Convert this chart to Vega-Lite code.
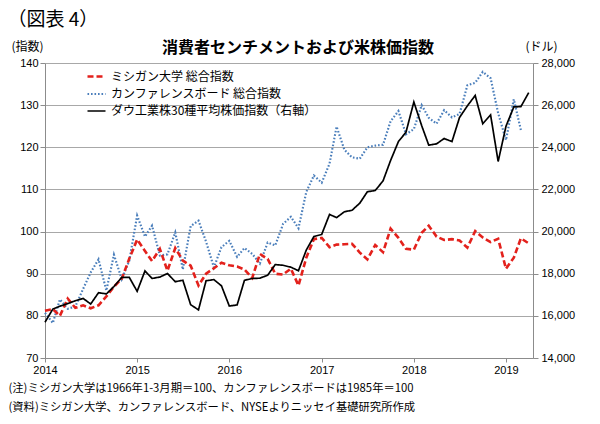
{
  "$schema": "https://vega.github.io/schema/vega-lite/v6.json",
  "width": 488,
  "height": 295,
  "autosize": "none",
  "padding": {"left": 45, "top": 63, "right": 67, "bottom": 66},
  "background": "white",
  "config": {
    "view": {"stroke": null},
    "font": "Noto Sans CJK JP",
    "axis": {
      "labelFont": "Liberation Sans",
      "labelFontSize": 11,
      "labelColor": "#000000",
      "domainColor": "#8c8c8c",
      "tickColor": "#8c8c8c",
      "gridColor": "#a8a8a8",
      "titleFont": "Noto Sans CJK JP",
      "titleFontWeight": "normal",
      "titleColor": "#000000"
    },
    "legend": {
      "orient": "none",
      "legendX": 41,
      "legendY": 3,
      "labelFont": "Noto Sans CJK JP",
      "labelFontSize": 12,
      "labelColor": "#000000",
      "labelLimit": 400,
      "symbolType": "stroke",
      "symbolSize": 324,
      "rowPadding": 0.5,
      "labelOffset": 4
    }
  },
  "title": {
    "text": "消費者センチメントおよび米株価指数",
    "font": "Noto Sans CJK JP",
    "fontSize": 16,
    "fontWeight": "bold",
    "color": "#000000",
    "anchor": "middle",
    "frame": "group",
    "offset": 0,
    "dx": 9,
    "dy": 46
  },
  "data": {
    "values": [
      {"date": "2014/01/01", "ミシガン大学 総合指数": 81.2, "カンファレンスボード 総合指数": 80.7, "ダウ工業株30種平均株価指数（右軸）": 15699},
      {"date": "2014/02/01", "ミシガン大学 総合指数": 81.6, "カンファレンスボード 総合指数": 78.3, "ダウ工業株30種平均株価指数（右軸）": 16322},
      {"date": "2014/03/01", "ミシガン大学 総合指数": 80.0, "カンファレンスボード 総合指数": 83.9, "ダウ工業株30種平均株価指数（右軸）": 16458},
      {"date": "2014/04/01", "ミシガン大学 総合指数": 84.1, "カンファレンスボード 総合指数": 81.7, "ダウ工業株30種平均株価指数（右軸）": 16581},
      {"date": "2014/05/01", "ミシガン大学 総合指数": 81.9, "カンファレンスボード 総合指数": 82.2, "ダウ工業株30種平均株価指数（右軸）": 16717},
      {"date": "2014/06/01", "ミシガン大学 総合指数": 82.5, "カンファレンスボード 総合指数": 86.4, "ダウ工業株30種平均株価指数（右軸）": 16827},
      {"date": "2014/07/01", "ミシガン大学 総合指数": 81.8, "カンファレンスボード 総合指数": 90.3, "ダウ工業株30種平均株価指数（右軸）": 16563},
      {"date": "2014/08/01", "ミシガン大学 総合指数": 82.5, "カンファレンスボード 総合指数": 93.4, "ダウ工業株30種平均株価指数（右軸）": 17098},
      {"date": "2014/09/01", "ミシガン大学 総合指数": 84.6, "カンファレンスボード 総合指数": 86.0, "ダウ工業株30種平均株価指数（右軸）": 17043},
      {"date": "2014/10/01", "ミシガン大学 総合指数": 86.9, "カンファレンスボード 総合指数": 94.5, "ダウ工業株30種平均株価指数（右軸）": 17391},
      {"date": "2014/11/01", "ミシガン大学 総合指数": 88.8, "カンファレンスボード 総合指数": 88.7, "ダウ工業株30種平均株価指数（右軸）": 17828},
      {"date": "2014/12/01", "ミシガン大学 総合指数": 93.6, "カンファレンスボード 総合指数": 93.1, "ダウ工業株30種平均株価指数（右軸）": 17823},
      {"date": "2015/01/01", "ミシガン大学 総合指数": 98.1, "カンファレンスボード 総合指数": 103.8, "ダウ工業株30種平均株価指数（右軸）": 17165},
      {"date": "2015/02/01", "ミシガン大学 総合指数": 95.4, "カンファレンスボード 総合指数": 98.8, "ダウ工業株30種平均株価指数（右軸）": 18133},
      {"date": "2015/03/01", "ミシガン大学 総合指数": 93.0, "カンファレンスボード 総合指数": 101.4, "ダウ工業株30種平均株価指数（右軸）": 17776},
      {"date": "2015/04/01", "ミシガン大学 総合指数": 95.9, "カンファレンスボード 総合指数": 94.3, "ダウ工業株30種平均株価指数（右軸）": 17841},
      {"date": "2015/05/01", "ミシガン大学 総合指数": 90.7, "カンファレンスボード 総合指数": 94.6, "ダウ工業株30種平均株価指数（右軸）": 18011},
      {"date": "2015/06/01", "ミシガン大学 総合指数": 96.1, "カンファレンスボード 総合指数": 99.8, "ダウ工業株30種平均株価指数（右軸）": 17620},
      {"date": "2015/07/01", "ミシガン大学 総合指数": 93.1, "カンファレンスボード 総合指数": 91.0, "ダウ工業株30種平均株価指数（右軸）": 17690},
      {"date": "2015/08/01", "ミシガン大学 総合指数": 91.9, "カンファレンスボード 総合指数": 101.3, "ダウ工業株30種平均株価指数（右軸）": 16528},
      {"date": "2015/09/01", "ミシガン大学 総合指数": 87.2, "カンファレンスボード 総合指数": 102.6, "ダウ工業株30種平均株価指数（右軸）": 16285},
      {"date": "2015/10/01", "ミシガン大学 総合指数": 90.0, "カンファレンスボード 総合指数": 97.6, "ダウ工業株30種平均株価指数（右軸）": 17664},
      {"date": "2015/11/01", "ミシガン大学 総合指数": 91.3, "カンファレンスボード 総合指数": 91.5, "ダウ工業株30種平均株価指数（右軸）": 17720},
      {"date": "2015/12/01", "ミシガン大学 総合指数": 92.6, "カンファレンスボード 総合指数": 96.3, "ダウ工業株30種平均株価指数（右軸）": 17425},
      {"date": "2016/01/01", "ミシガン大学 総合指数": 92.0, "カンファレンスボード 総合指数": 97.8, "ダウ工業株30種平均株価指数（右軸）": 16466},
      {"date": "2016/02/01", "ミシガン大学 総合指数": 91.7, "カンファレンスボード 総合指数": 94.0, "ダウ工業株30種平均株価指数（右軸）": 16517},
      {"date": "2016/03/01", "ミシガン大学 総合指数": 91.0, "カンファレンスボード 総合指数": 96.1, "ダウ工業株30種平均株価指数（右軸）": 17685},
      {"date": "2016/04/01", "ミシガン大学 総合指数": 89.0, "カンファレンスボード 総合指数": 94.7, "ダウ工業株30種平均株価指数（右軸）": 17774},
      {"date": "2016/05/01", "ミシガン大学 総合指数": 94.7, "カンファレンスボード 総合指数": 92.4, "ダウ工業株30種平均株価指数（右軸）": 17787},
      {"date": "2016/06/01", "ミシガン大学 総合指数": 93.5, "カンファレンスボード 総合指数": 97.4, "ダウ工業株30種平均株価指数（右軸）": 17930},
      {"date": "2016/07/01", "ミシガン大学 総合指数": 90.0, "カンファレンスボード 総合指数": 96.7, "ダウ工業株30種平均株価指数（右軸）": 18432},
      {"date": "2016/08/01", "ミシガン大学 総合指数": 89.8, "カンファレンスボード 総合指数": 101.8, "ダウ工業株30種平均株価指数（右軸）": 18401},
      {"date": "2016/09/01", "ミシガン大学 総合指数": 91.2, "カンファレンスボード 総合指数": 103.5, "ダウ工業株30種平均株価指数（右軸）": 18308},
      {"date": "2016/10/01", "ミシガン大学 総合指数": 87.2, "カンファレンスボード 総合指数": 100.8, "ダウ工業株30種平均株価指数（右軸）": 18142},
      {"date": "2016/11/01", "ミシガン大学 総合指数": 93.8, "カンファレンスボード 総合指数": 109.4, "ダウ工業株30種平均株価指数（右軸）": 19124},
      {"date": "2016/12/01", "ミシガン大学 総合指数": 98.2, "カンファレンスボード 総合指数": 113.3, "ダウ工業株30種平均株価指数（右軸）": 19763},
      {"date": "2017/01/01", "ミシガン大学 総合指数": 98.5, "カンファレンスボード 総合指数": 111.6, "ダウ工業株30種平均株価指数（右軸）": 19864},
      {"date": "2017/02/01", "ミシガン大学 総合指数": 96.3, "カンファレンスボード 総合指数": 116.1, "ダウ工業株30種平均株価指数（右軸）": 20812},
      {"date": "2017/03/01", "ミシガン大学 総合指数": 96.9, "カンファレンスボード 総合指数": 124.9, "ダウ工業株30種平均株価指数（右軸）": 20663},
      {"date": "2017/04/01", "ミシガン大学 総合指数": 97.0, "カンファレンスボード 総合指数": 119.4, "ダウ工業株30種平均株価指数（右軸）": 20941},
      {"date": "2017/05/01", "ミシガン大学 総合指数": 97.1, "カンファレンスボード 総合指数": 117.6, "ダウ工業株30種平均株価指数（右軸）": 21009},
      {"date": "2017/06/01", "ミシガン大学 総合指数": 95.0, "カンファレンスボード 総合指数": 117.3, "ダウ工業株30種平均株価指数（右軸）": 21350},
      {"date": "2017/07/01", "ミシガン大学 総合指数": 93.4, "カンファレンスボード 総合指数": 120.0, "ダウ工業株30種平均株価指数（右軸）": 21891},
      {"date": "2017/08/01", "ミシガン大学 総合指数": 96.8, "カンファレンスボード 総合指数": 120.4, "ダウ工業株30種平均株価指数（右軸）": 21948},
      {"date": "2017/09/01", "ミシガン大学 総合指数": 95.1, "カンファレンスボード 総合指数": 120.6, "ダウ工業株30種平均株価指数（右軸）": 22405},
      {"date": "2017/10/01", "ミシガン大学 総合指数": 100.7, "カンファレンスボード 総合指数": 126.2, "ダウ工業株30種平均株価指数（右軸）": 23377},
      {"date": "2017/11/01", "ミシガン大学 総合指数": 98.5, "カンファレンスボード 総合指数": 128.6, "ダウ工業株30種平均株価指数（右軸）": 24272},
      {"date": "2017/12/01", "ミシガン大学 総合指数": 95.9, "カンファレンスボード 総合指数": 123.1, "ダウ工業株30種平均株価指数（右軸）": 24719},
      {"date": "2018/01/01", "ミシガン大学 総合指数": 95.7, "カンファレンスボード 総合指数": 124.3, "ダウ工業株30種平均株価指数（右軸）": 26149},
      {"date": "2018/02/01", "ミシガン大学 総合指数": 99.7, "カンファレンスボード 総合指数": 130.0, "ダウ工業株30種平均株価指数（右軸）": 25029},
      {"date": "2018/03/01", "ミシガン大学 総合指数": 101.4, "カンファレンスボード 総合指数": 127.0, "ダウ工業株30種平均株価指数（右軸）": 24103},
      {"date": "2018/04/01", "ミシガン大学 総合指数": 98.8, "カンファレンスボード 総合指数": 125.6, "ダウ工業株30種平均株価指数（右軸）": 24163},
      {"date": "2018/05/01", "ミシガン大学 総合指数": 98.0, "カンファレンスボード 総合指数": 128.8, "ダウ工業株30種平均株価指数（右軸）": 24416},
      {"date": "2018/06/01", "ミシガン大学 総合指数": 98.2, "カンファレンスボード 総合指数": 127.1, "ダウ工業株30種平均株価指数（右軸）": 24271},
      {"date": "2018/07/01", "ミシガン大学 総合指数": 97.9, "カンファレンスボード 総合指数": 127.9, "ダウ工業株30種平均株価指数（右軸）": 25415},
      {"date": "2018/08/01", "ミシガン大学 総合指数": 96.2, "カンファレンスボード 総合指数": 134.7, "ダウ工業株30種平均株価指数（右軸）": 25965},
      {"date": "2018/09/01", "ミシガン大学 総合指数": 100.1, "カンファレンスボード 総合指数": 135.3, "ダウ工業株30種平均株価指数（右軸）": 26458},
      {"date": "2018/10/01", "ミシガン大学 総合指数": 98.6, "カンファレンスボード 総合指数": 137.9, "ダウ工業株30種平均株価指数（右軸）": 25116},
      {"date": "2018/11/01", "ミシガン大学 総合指数": 97.5, "カンファレンスボード 総合指数": 136.4, "ダウ工業株30種平均株価指数（右軸）": 25538},
      {"date": "2018/12/01", "ミシガン大学 総合指数": 98.3, "カンファレンスボード 総合指数": 128.1, "ダウ工業株30種平均株価指数（右軸）": 23327},
      {"date": "2019/01/01", "ミシガン大学 総合指数": 91.2, "カンファレンスボード 総合指数": 121.7, "ダウ工業株30種平均株価指数（右軸）": 25000},
      {"date": "2019/02/01", "ミシガン大学 総合指数": 93.8, "カンファレンスボード 総合指数": 131.4, "ダウ工業株30種平均株価指数（右軸）": 25916},
      {"date": "2019/03/01", "ミシガン大学 総合指数": 98.4, "カンファレンスボード 総合指数": 124.1, "ダウ工業株30種平均株価指数（右軸）": 25929},
      {"date": "2019/04/01", "ミシガン大学 総合指数": 97.2, "ダウ工業株30種平均株価指数（右軸）": 26593}
    ]
  },
  "layer": [
    {
      "transform": [
        {"fold": ["カンファレンスボード 総合指数", "ミシガン大学 総合指数"], "as": ["series", "value"]},
        {"filter": "isValid(datum.value)"}
      ],
      "mark": {"type": "line"},
      "encoding": {
        "x": {
          "field": "date", "type": "temporal",
          "scale": {"domain": [{"year": 2014, "month": 1, "date": 1}, {"year": 2019, "month": 4, "date": 18}]},
          "axis": {
            "orient": "bottom", "format": "%Y", "tickCount": {"interval": "year", "step": 1},
            "grid": false, "tickSize": 4, "labelPadding": 2, "labelFlush": false,
            "title": ["(注)ミシガン大学は1966年1-3月期＝100、カンファレンスボードは1985年＝100", "(資料)ミシガン大学、カンファレンスボード、NYSEよりニッセイ基礎研究所作成"],
            "titleFontSize": 11.3, "titleAnchor": "start", "titleAlign": "left", "titleBaseline": "top",
            "titleX": -37, "titleY": 24, "titleLineHeight": 19
          }
        },
        "y": {
          "field": "value", "type": "quantitative",
          "scale": {"domain": [70, 140], "zero": false, "nice": false},
          "axis": {
            "orient": "left", "values": [70, 80, 90, 100, 110, 120, 130, 140],
            "grid": true, "tickSize": 5, "labelPadding": 2,
            "title": "(指数)", "titleAngle": 0, "titleFontSize": 12, "titleAlign": "center", "titleBaseline": "middle",
            "titleX": -18, "titleY": -17
          }
        },
        "color": {
          "field": "series", "type": "nominal", "title": null,
          "scale": {"domain": ["ミシガン大学 総合指数", "カンファレンスボード 総合指数", "ダウ工業株30種平均株価指数（右軸）"], "range": ["#e3211c", "#4a7ebb", "#000000"]}
        },
        "strokeDash": {
          "field": "series", "type": "nominal", "title": null,
          "scale": {"domain": ["ミシガン大学 総合指数", "カンファレンスボード 総合指数", "ダウ工業株30種平均株価指数（右軸）"], "range": [[6, 3], [1.6, 1.9], [1, 0]]}
        },
        "strokeWidth": {
          "field": "series", "type": "nominal", "title": null,
          "scale": {"domain": ["ミシガン大学 総合指数", "カンファレンスボード 総合指数", "ダウ工業株30種平均株価指数（右軸）"], "range": [2.6, 1.7, 1.1]}
        }
      }
    },
    {
      "transform": [
        {"fold": ["ダウ工業株30種平均株価指数（右軸）"], "as": ["series", "value"]}
      ],
      "mark": {"type": "line"},
      "encoding": {
        "x": {
          "field": "date", "type": "temporal",
          "scale": {"domain": [{"year": 2014, "month": 1, "date": 1}, {"year": 2019, "month": 4, "date": 18}]},
          "axis": {
            "orient": "top", "labels": false, "ticks": false, "domain": false, "grid": false,
            "title": "（図表 4）", "titleFontSize": 19, "titleAnchor": "start", "titleAlign": "left", "titleBaseline": "middle",
            "titleX": -38, "titleY": -44
          }
        },
        "y": {
          "field": "value", "type": "quantitative",
          "scale": {"domain": [14000, 28000], "zero": false, "nice": false},
          "axis": {
            "orient": "right", "format": ",.0f", "values": [14000, 16000, 18000, 20000, 22000, 24000, 26000, 28000],
            "grid": false, "tickSize": 5, "labelPadding": 3,
            "title": "(ドル)", "titleAngle": 0, "titleFontSize": 12, "titleAlign": "center", "titleBaseline": "middle",
            "titleX": 8, "titleY": -17
          }
        },
        "color": {
          "field": "series", "type": "nominal", "title": null,
          "scale": {"domain": ["ミシガン大学 総合指数", "カンファレンスボード 総合指数", "ダウ工業株30種平均株価指数（右軸）"], "range": ["#e3211c", "#4a7ebb", "#000000"]}
        },
        "strokeDash": {
          "field": "series", "type": "nominal", "title": null,
          "scale": {"domain": ["ミシガン大学 総合指数", "カンファレンスボード 総合指数", "ダウ工業株30種平均株価指数（右軸）"], "range": [[6, 3], [1.6, 1.9], [1, 0]]}
        },
        "strokeWidth": {
          "field": "series", "type": "nominal", "title": null,
          "scale": {"domain": ["ミシガン大学 総合指数", "カンファレンスボード 総合指数", "ダウ工業株30種平均株価指数（右軸）"], "range": [2.6, 1.7, 1.1]}
        }
      }
    }
  ],
  "resolve": {"scale": {"y": "independent"}, "axis": {"x": "independent"}}
}
